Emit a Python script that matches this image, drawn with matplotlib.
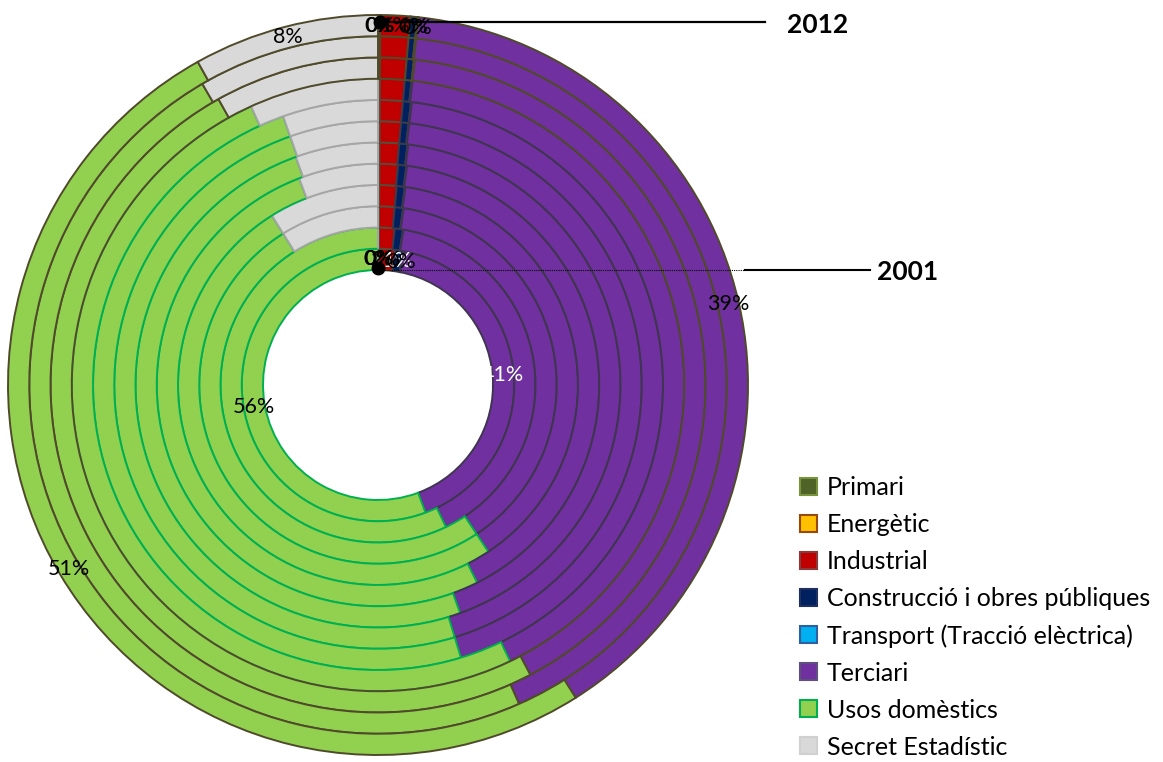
import numpy as np
import matplotlib.pyplot as plt
from matplotlib.patches import Patch

plt.rcParams['font.family'] = ['Lato', 'DejaVu Sans']

# years, inner ring = 2001, outer ring = 2012
years = [2001, 2002, 2003, 2004, 2005, 2006, 2007, 2008, 2009, 2010, 2011, 2012]
categories = ["Primari", "Energètic", "Industrial", "Construcció i obres públiques",
              "Transport (Tracció elèctrica)", "Terciari", "Usos domèstics", "Secret Estadístic"]

# share of consumption (%)
primari = [0.1, 0.1, 0.1, 0.1, 0.1, 0.1, 0.1, 0.1, 0.1, 0.1, 0.1, 0.1]
energetic = [0, 0, 0, 0, 0, 0, 0, 0, 0, 0, 0, 0]
industrial = [1.9, 1.6, 1.4, 1.4, 1.35, 1.3, 1.3, 1.3, 1.3, 1.3, 1.3, 1.3]
construccio = [1.0, 0.85, 0.75, 0.65, 0.6, 0.55, 0.45, 0.45, 0.35, 0.35, 0.3, 0.3]
transport = [0.05, 0.05, 0.05, 0.05, 0.05, 0.05, 0.05, 0.05, 0.05, 0.05, 0.05, 0.05]
terciari = [41.3, 40.3, 38.4, 38.5, 40.5, 42.5, 43.4, 43.4, 41.1, 40.5, 41.6, 39.3]
usos = [55.7, 57.1, 50.4, 50.4, 51.6, 50.0, 49.3, 49.3, 50.3, 49.6, 48.2, 50.9]
secret = [0, 0, 8.9, 8.9, 5.8, 5.5, 5.4, 5.4, 6.8, 8.1, 8.4, 8.1]

series = [primari, energetic, industrial, construccio, transport, terciari, usos, secret]
colors = ['#4F6228', '#FFC000', '#C00000', '#002060', '#00B0F0', '#7030A0', '#92D050', '#D9D9D9']
edge_in = ['#3A3A2A', '#984807', '#5A4A3A', '#3A3A4A', '#3A3A4A', '#3F3550', '#00B050', '#A6A6A6']
legend_edge = ['#77933C', '#984807', '#8B3A3A', '#1F2F5F', '#2F5F9F', '#5F4F7F', '#00B050', '#D0D0D0']
edge_out = '#4F4A2A'

W, H = 1163, 762
fig = plt.figure(figsize=(W / 100, H / 100), dpi=100)
ax = fig.add_axes([0, 0, 1, 1])

cx, cy = 378, H - 385
r0, dr = 115, 21.25

for i, yr in enumerate(years):
    vals = [s[i] for s in series]
    r = r0 + dr * (i + 1)
    wedges, _ = ax.pie(vals, colors=colors, radius=r, center=(cx, cy), startangle=90,
                       counterclock=False, frame=True,
                       wedgeprops=dict(width=dr, linewidth=1.4))
    for w, ec in zip(wedges, edge_in):
        w.set_edgecolor(edge_out if i >= 9 else ec)

# data labels on the inner and outer ring
def ring_labels(i, label_colors):
    vals = np.array([s[i] for s in series], dtype=float)
    frac = vals / vals.sum()
    cum = np.cumsum(frac) - frac / 2
    rm = r0 + dr * (i + 0.5)
    for k, (f, m) in enumerate(zip(frac, cum)):
        th = np.deg2rad(90 - 360 * m)
        ax.text(cx + rm * np.cos(th), cy + rm * np.sin(th), "%d%%" % round(f * 100),
                ha='center', va='center', fontsize=15.5, color=label_colors[k])

ring_labels(0, ['k', 'k', 'k', 'w', 'k', 'w', 'k', 'k'])
ring_labels(11, ['k'] * 8)

# year markers
ax.plot([380, 765], [H - 22, H - 22], color='k', lw=1.6)
ax.plot(380, H - 22, 'o', ms=9, color='k')
ax.text(787, H - 25, "2012", fontsize=19, fontweight='bold', va='center', ha='left')

ax.plot([378, 745], [H - 270, H - 270], color='k', lw=0.8, ls=(0, (1, 1)))
ax.plot([745, 870], [H - 270, H - 270], color='k', lw=1.5)
ax.plot(378, H - 268, 'o', ms=9, color='k')
ax.text(877, H - 272, "2001", fontsize=19, fontweight='bold', va='center', ha='left')

handles = [Patch(facecolor=c, edgecolor=e, linewidth=1.5) for c, e in zip(colors, legend_edge)]
fig.legend(handles, categories, loc='upper left', bbox_to_anchor=(800 / W, 1 - 476 / H),
           frameon=False, fontsize=18, handlelength=0.68, handleheight=0.68,
           handletextpad=0.4, labelspacing=0.56, borderpad=0, borderaxespad=0)

ax.set_xlim(0, W)
ax.set_ylim(0, H)
ax.set_aspect('equal')
ax.axis('off')

fig.savefig('out.png', dpi=100)
